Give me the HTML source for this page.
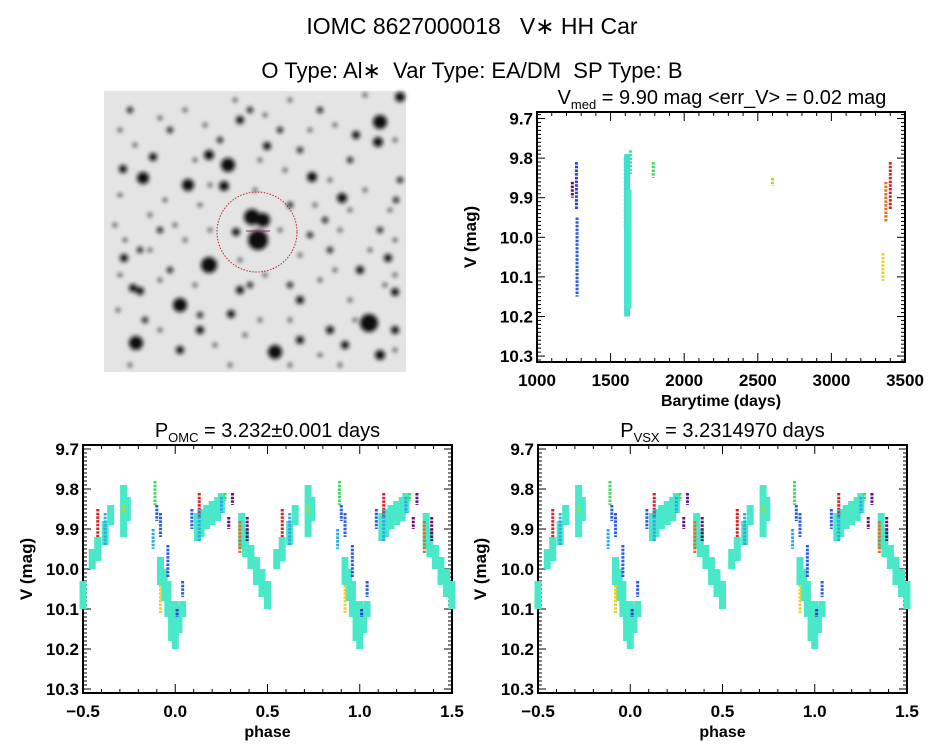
<!DOCTYPE html>
<html><head><meta charset="utf-8"><style>
html,body{margin:0;padding:0;background:#fff;}
svg text{font-family:"Liberation Sans",sans-serif;fill:#000;}
</style></head><body>
<svg id="root" width="944" height="747" viewBox="0 0 944 747" xmlns="http://www.w3.org/2000/svg">
<defs><filter id="blur" x="-50%" y="-50%" width="200%" height="200%"><feGaussianBlur stdDeviation="2.2"/></filter>
<filter id="blur2" x="-50%" y="-50%" width="200%" height="200%"><feGaussianBlur stdDeviation="1.8"/></filter></defs>
<text x="472" y="34" font-size="23" text-anchor="middle">IOMC 8627000018 &#160;&#160;V∗ HH Car</text>
<text x="472" y="78" font-size="22" text-anchor="middle">O Type: Al∗ &#160;Var Type: EA/DM &#160;SP Type: B</text>
<g id="img"></g>
<g id="tr"></g>
<g id="bl"></g>
<g id="br"></g>
</svg>
<script>
// ---- light curve vs time data: groups (time, min mag, max mag, color)
const timeT   = [1240, 1268, 1272, 1600, 1612, 1622, 1635, 1790, 2600, 3350, 3370, 3400];
const timeMin = [9.86, 9.81, 9.95, 9.80, 9.79, 9.88, 9.78, 9.81, 9.85, 10.04, 9.86, 9.81];
const timeMax = [9.90, 9.93, 10.15, 9.98, 10.20, 10.18, 9.84, 9.85, 9.87, 10.11, 9.96, 9.93];
const timeCol = ["#6a0f6a","#2a3ad8","#2a5ae0","#2aa8e8","#40e0d0","#48e8c8","#48e090","#40d860","#a0e030","#f0d020","#e07020","#d82020"];
const timeTicks = [1000,1500,2000,2500,3000,3500];
const magTicks = [9.7,9.8,9.9,10.0,10.1,10.2,10.3];
const magLabels = ["9.7","9.8","9.9","10.0","10.1","10.2","10.3"];
// ---- phase curve data (phase in 0..1, min mag, max mag, color)
const phP   = [0.00,0.02,0.04,0.12,0.14,0.17,0.20,0.23,0.25,0.36,0.38,0.41,0.44,0.47,0.50,0.55,0.58,0.62,0.65,0.72,0.74,0.92,0.94,0.96,0.98];
const phMin = [10.08,10.09,10.08,9.86,9.85,9.84,9.83,9.82,9.81,9.86,9.90,9.94,9.97,10.00,10.03,9.95,9.92,9.88,9.84,9.79,9.82,9.97,10.00,10.03,10.08];
const phMax = [10.20,10.16,10.12,9.93,9.92,9.90,9.89,9.88,9.86,9.95,9.97,10.00,10.04,10.07,10.10,10.00,9.98,9.94,9.89,9.92,9.88,10.04,10.08,10.12,10.18];
const exP   = [0.58,0.13,0.39,0.35,0.31,0.29,0.27,0.89,0.92,0.09,0.04,0.01,0.96,0.92,0.90,0.62,0.88,0.25,0.13,0.72];
const exMin = [9.85,9.81,9.87,9.88,9.81,9.87,9.81,9.78,10.04,9.85,10.03,10.10,9.94,9.86,9.84,9.86,9.90,9.82,9.85,9.84];
const exMax = [9.92,9.87,9.93,9.96,9.84,9.90,9.83,9.84,10.11,9.90,10.07,10.12,10.02,9.92,9.88,9.94,9.95,9.86,9.93,9.86];
const exCol = ["#d82020","#d82020","#6a0f6a","#e07020","#5a1090","#6a0f6a","#40d860","#40d860","#f0d020","#2a5ae0","#2a5ae0","#2a3ad8","#2a5ae0","#2a5ae0","#2a5ae0","#2aa8e8","#2aa8e8","#2aa8e8","#2aa8e8","#a0e030"];
const phaseTicks = [-0.5,0.0,0.5,1.0,1.5];
const phaseLabels = ["\u22120.5","0.0","0.5","1.0","1.5"];
const stars = [[380,122,6],[400,97,4],[228,165,6],[143,178,5],[188,185,5],[224,186,4],[153,157,3],[209,155,4],[267,146,3],[312,177,4],[342,198,4],[252,217,7],[263,220,6],[258,240,9],[209,265,7],[180,305,6],[136,343,6],[275,352,6],[369,323,8],[380,355,4],[378,142,4],[356,135,3],[123,169,3],[124,258,3],[140,291,3],[133,288,3],[395,292,3],[388,258,3],[330,330,3],[231,314,3],[200,315,2],[300,300,3],[290,285,2],[160,230,2],[140,250,2],[240,120,3],[280,130,2],[320,110,2],[350,160,2],[330,250,2],[310,235,2],[360,270,3],[240,290,3],[250,285,2],[200,330,3],[180,350,3],[300,340,3],[345,345,3],[395,330,3],[396,200,2],[250,110,2],[130,110,2],[170,130,2],[220,140,2],[300,150,2],[400,180,2],[380,230,2],[325,220,2],[170,270,2],[145,320,2],[290,205,2],[236,232,3]];
const faint = [[120,130],[135,145],[160,118],[185,110],[205,125],[235,100],[265,115],[290,100],[335,125],[365,95],[395,140],[120,195],[165,200],[200,205],[255,190],[285,170],[330,180],[365,190],[390,210],[115,225],[150,215],[185,240],[210,230],[300,255],[340,230],[370,250],[395,240],[120,275],[160,280],[195,285],[265,275],[320,280],[350,300],[385,285],[118,310],[160,330],[215,345],[245,335],[260,320],[320,355],[355,320],[395,350],[130,365],[230,365],[290,365],[340,365],[150,250],[175,225],[280,230],[315,205],[350,210],[210,185],[260,160],[310,130],[195,160],[125,240],[395,275],[335,270],[240,260],[290,320]];
const NS="http://www.w3.org/2000/svg";
function mk(p,t,a){const e=document.createElementNS(NS,t);for(const k in a)e.setAttribute(k,a[k]);p.appendChild(e);return e;}
// sky image
(function(){
 const g=document.getElementById('img');
 const bg=mk(g,'rect',{x:104,y:91,width:302,height:281,fill:'#e4e4e4'});
 
 
 const fg=mk(g,'g',{filter:'url(#blur2)'});
 faint.forEach(s=>{const c=mk(fg,'circle',{cx:s[0],cy:s[1],r:3,fill:'#888'});
  
  });
 const sg=mk(g,'g',{filter:'url(#blur)'});
 stars.forEach(s=>{const c=mk(sg,'circle',{cx:s[0],cy:s[1],r:s[2]+1,fill:'#111'});
  
  });
 const ring=mk(g,'circle',{cx:257,cy:232,r:40,fill:'none',stroke:'#c02020','stroke-width':1,'stroke-dasharray':'1.5 1.5'});
 
 
 mk(g,'line',{x1:246,y1:231,x2:270,y2:231,stroke:'#8a3070','stroke-width':1});
})();
function panel(gid,x0,x1,y0,y1,xd,yd,xt,xl,xminor,title,sub,rest,xlabel,ylabX,titleX){
 const g=document.getElementById(gid);
 const X=v=>x0+(v-xd[0])/(xd[1]-xd[0])*(x1-x0);
 const Y=v=>y0+(v-yd[0])/(yd[1]-yd[0])*(y1-y0);
 const fr=mk(g,'rect',{x:x0,y:y0,width:x1-x0,height:y1-y0,fill:'none',stroke:'#000','stroke-width':2});
 
 
 for(let m=Math.round(yd[0]*100)+1;m<yd[1]*100;m++){const v=m/100;const maj=Math.abs(v*10-Math.round(v*10))<1e-6;const L=maj?8:4;
  mk(g,'line',{x1:x0,y1:Y(v),x2:x0+L,y2:Y(v),stroke:'#000','stroke-width':1});
  mk(g,'line',{x1:x1,y1:Y(v),x2:x1-L,y2:Y(v),stroke:'#000','stroke-width':1});}
 for(let v=xd[0];v<=xd[1]+1e-9;v+=xminor){const maj=xt.some(t=>Math.abs(t-v)<1e-6);const L=maj?9:4;
  mk(g,'line',{x1:X(v),y1:y1,x2:X(v),y2:y1-L,stroke:'#000','stroke-width':1});
  mk(g,'line',{x1:X(v),y1:y0,x2:X(v),y2:y0+L,stroke:'#000','stroke-width':1});}
 magTicks.forEach((v,i)=>{const t=mk(g,'text',{x:x0-4,y:Y(v)+6,'font-size':17,'text-anchor':'end','font-weight':'bold'});t.textContent=magLabels[i];
  
  });
 xt.forEach((v,i)=>{const t=mk(g,'text',{x:X(v),y:y1+24,'font-size':17,'text-anchor':'middle','font-weight':'bold'});t.textContent=xl[i];
  
  });
 const xt2=mk(g,'text',{x:(x0+x1)/2,y:y1+44,'font-size':16,'text-anchor':'middle','font-weight':'bold'});xt2.textContent=xlabel;
 
 
 const yt=mk(g,'text',{x:0,y:0,'font-size':17,'text-anchor':'middle','font-weight':'bold',transform:`translate(${ylabX},${(y0+y1)/2}) rotate(-90)`});yt.textContent='V (mag)';
 
 
 const tt=mk(g,'text',{x:titleX,y:y0-8,'font-size':20,'text-anchor':'middle'});
 
 
 tt.appendChild(document.createTextNode(title));
 const s=mk(tt,'tspan',{'font-size':13,dy:5});s.textContent=sub;
 const r=mk(tt,'tspan',{dy:-5});r.textContent=rest;
 return {g,X,Y};
}
function seg(g,X,Y,x,a,b,c,w,name,dash){
 const l=mk(g,'line',{x1:X(x),x2:X(x),y1:Y(a),y2:Y(b),stroke:c,'stroke-width':w,'stroke-dasharray':dash});
 
 
}
// time panel
(function(){
 const p=panel('tr',537,905,112,362,[1000,3500],[9.6835,10.315],timeTicks,timeTicks.map(String),100,'V','med',' = 9.90 mag <err_V> = 0.02 mag','Barytime (days)',476,722);
 timeT.forEach((t,i)=>{const cy=(timeCol[i]=='#48e8c8'||timeCol[i]=='#40e0d0');
  seg(p.g,p.X,p.Y,t,timeMin[i],timeMax[i],timeCol[i],cy?6:3,'time-point-group',cy?'none':'2.5 1.2');});
})();
function phasePanel(id,x0,x1,sub,rest,ylabX){
 const p=panel(id,x0,x1,445,693,[-0.5,1.5],[9.69,10.31],phaseTicks,phaseLabels,0.1,'P',sub,rest,'phase',ylabX,(x0+x1)/2);
 [-1,0,1].forEach(o=>{
  phP.forEach((ph,i)=>{const x=ph+o; if(x<-0.5||x>1.5)return; seg(p.g,p.X,p.Y,x,phMin[i],phMax[i],'#48e8c8',7,'cyan-phase-points','none');});
  exP.forEach((ph,i)=>{const x=ph+o; if(x<-0.5||x>1.5)return; seg(p.g,p.X,p.Y,x,exMin[i],exMax[i],exCol[i],3,'phase-point-group','2.5 1.2');});
 });
}
phasePanel('bl',83,452,'OMC',' = 3.232\u00b10.001 days',32);
phasePanel('br',538,907,'VSX',' = 3.2314970 days',486);
</script>
</body></html>
